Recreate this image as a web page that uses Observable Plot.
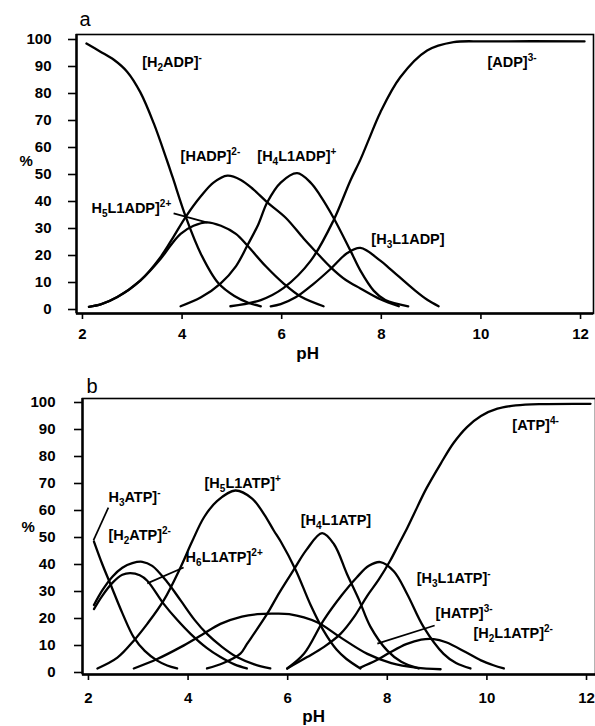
<!DOCTYPE html>
<html><head><meta charset="utf-8">
<script src="https://cdn.jsdelivr.net/npm/d3@7"></script>
<script src="https://cdn.jsdelivr.net/npm/@observablehq/plot@0.6"></script>
<style>
body{margin:0;background:#fff;}
#c{width:595px;}
#c svg{display:block;}
</style></head><body><div id="c"></div>
<script>
// ---------- Panel a : ADP system  [pH, %] ----------
const H2ADP   = [[2.0,98.5],[2.28,95.5],[2.55,92.5],[2.82,88],[3.08,80.5],[3.35,69],[3.62,55],[3.73,49],[4.0,34],[4.3,20.5],[4.65,9.7],[4.97,5],[5.25,2.5],[5.5,1.2]];
const HADP    = [[2.05,1],[2.3,2],[2.62,4.6],[3.08,10.7],[3.49,19.5],[3.75,27],[4.0,34.5],[4.3,42],[4.55,47],[4.83,49.6],[5.1,48],[5.35,44.5],[5.63,39.7],[6.0,34],[6.36,26.3],[6.6,21.5],[6.9,15.7],[7.2,11],[7.5,7.8],[7.9,3.8],[8.27,1.2]];
const H5L1ADP = [[2.05,1],[2.3,2],[2.62,4.6],[3.08,10.7],[3.49,18.8],[3.7,24],[3.89,28],[4.15,31],[4.42,32.3],[4.7,31],[5.0,28],[5.23,23.7],[5.6,16],[5.96,9.6],[6.3,4.8],[6.76,1.2]];
const H4L1ADP = [[3.89,1.2],[4.3,4.5],[4.69,9.6],[5.0,16],[5.23,23.7],[5.45,31.5],[5.63,39.7],[5.9,47],[6.23,50.5],[6.5,47],[6.7,42],[6.96,34],[7.3,21.8],[7.5,14.4],[7.77,6.9],[8.0,3.5],[8.46,1.2]];
const H3L1ADP = [[5.7,1.2],[5.9,2],[6.2,4.5],[6.56,9.5],[6.9,15],[7.23,20.8],[7.5,22.8],[7.9,18.1],[8.1,15],[8.6,7],[8.85,3.5],[9.07,1.2]];
const ADP     = [[4.89,1.2],[5.5,3.5],[5.96,8],[6.5,18],[6.96,33],[7.3,47.8],[7.5,55.5],[7.67,63],[7.9,73],[8.3,86],[8.84,95.9],[9.37,99],[10,99.3],[12,99.3]];

// ---------- Panel b : ATP system  [pH, %] ----------
const H3ATP   = [[2.03,48.5],[2.2,40],[2.36,32.8],[2.6,22],[2.83,13],[3.05,8],[3.3,4.4],[3.5,2.6],[3.7,1.5]];
const H2ATP   = [[2.03,25],[2.2,30.5],[2.4,35.5],[2.6,38.8],[2.8,40.5],[3.0,41],[3.2,39.5],[3.5,33.5],[3.77,26.7],[4.05,19.5],[4.3,14.3],[4.6,9.5],[4.9,5.7],[5.25,3],[5.57,1.5]];
const H6L1ATP = [[2.03,23.5],[2.2,28.5],[2.4,33.2],[2.6,36.2],[2.76,36.8],[2.95,36],[3.1,34],[3.43,25.4],[3.7,19.5],[3.97,14.3],[4.3,9],[4.57,5.7],[4.85,3],[5.1,1.5]];
const H5L1ATP = [[2.1,1.5],[2.5,5.5],[2.83,11.8],[3.1,18],[3.43,26.7],[3.77,39],[4.0,48.5],[4.24,57.5],[4.5,63.5],[4.87,67.4],[5.2,64.5],[5.45,58.5],[5.64,52.6],[5.78,48.5],[6.08,38],[6.38,25],[6.64,15.5],[6.9,8.5],[7.1,5],[7.38,1.5]];
const HATP    = [[2.83,1.5],[3.3,5],[3.77,9.4],[4.2,14],[4.57,18],[5.0,20.7],[5.31,21.6],[5.6,21.8],[5.95,21.6],[6.51,18.6],[6.98,13],[7.52,6.9],[8.0,3.5],[8.5,1.8],[8.99,1.2]];
const H4L1ATP = [[4.3,1.5],[4.63,3.5],[4.97,7],[5.1,10.5],[5.5,21.5],[5.75,29.5],[6.04,38],[6.3,45.5],[6.61,51.6],[6.85,47.5],[7.11,36.5],[7.35,27],[7.58,17],[7.92,8.1],[8.2,4],[8.55,1.5]];
const H3L1ATP = [[5.91,1.5],[6.25,7],[6.64,19.3],[7.0,28.5],[7.31,35.3],[7.55,39.5],[7.78,40.9],[8.05,37.5],[8.32,29],[8.65,16.8],[9.05,6.9],[9.3,3.5],[9.59,1.5]];
const H2L1ATP = [[7.38,1.8],[7.7,4.5],[7.98,7.5],[8.3,10.5],[8.6,12.2],[8.85,12.4],[9.1,11.2],[9.5,7.5],[9.8,4.5],[10.05,2.7],[10.26,1.5]];
const ATP     = [[5.91,1.5],[6.31,5.7],[6.65,9.5],[6.98,14.3],[7.25,20.5],[7.52,28.5],[7.75,34.5],[7.98,41.5],[8.15,47.5],[8.32,53.5],[8.45,58.5],[8.7,68],[8.99,77.3],[9.25,85],[9.52,90.9],[9.8,95],[10.13,97.7],[10.5,98.9],[11,99.4],[12,99.5]];

// ---------- labels & pointers ----------
const labelsA = [
  {text:"[H_2ADP]^-",      x:3.12, y:91.5},
  {text:"[ADP]^{3-}",      x:10.05, y:91.5},
  {text:"[HADP]^{2-}",     x:3.89, y:56.7},
  {text:"[H_4L1ADP]^+",    x:5.43, y:56.7},
  {text:"H_5L1ADP]^{2+}",  x:2.10, y:37.4},
  {text:"[H_3L1ADP]",      x:7.72, y:25.9}
];
const pointersA = [{x1:3.75, y1:35.6, x2:4.43, y2:32.2}];
const labelsB = [
  {text:"H_3ATP]^-",        x:2.32, y:64.8},
  {text:"[H_2ATP]^{2-}",    x:2.32, y:50.7},
  {text:"[H_5L1ATP]^+",     x:4.25, y:70},
  {text:"H_6L1ATP]^{2+}",   x:3.87, y:42.6},
  {text:"[H_4L1ATP]",       x:6.18, y:56.3},
  {text:"[ATP]^{4-}",       x:10.43, y:91.5},
  {text:"[H_3L1ATP]^-",     x:8.51, y:34.8},
  {text:"[HATP]^{3-}",      x:8.89, y:21.9},
  {text:"[H_2L1ATP]^{2-}",  x:9.65, y:14.4}
];
const pointersB = [
  {x1:2.32, y1:61.1, x2:2.02, y2:48.9},
  {x1:3.83, y1:38.9, x2:3.10, y2:33.0},
  {x1:8.87, y1:17.4, x2:7.72, y2:10.7}
];
const xTicks = [2,4,6,8,10,12];
const yTicks = [0,10,20,30,40,50,60,70,80,90,100];

const rows = (name, arr) => arr.map(([ph, p]) => ({species:name, ph, p}));
const dataA = [
  ...rows("H2ADP",H2ADP), ...rows("HADP",HADP), ...rows("H5L1ADP",H5L1ADP),
  ...rows("H4L1ADP",H4L1ADP), ...rows("H3L1ADP",H3L1ADP), ...rows("ADP",ADP)
];
const dataB = [
  ...rows("H3ATP",H3ATP), ...rows("H2ATP",H2ATP), ...rows("H6L1ATP",H6L1ATP),
  ...rows("H5L1ATP",H5L1ATP), ...rows("HATP",HATP), ...rows("H4L1ATP",H4L1ATP),
  ...rows("H3L1ATP",H3L1ATP), ...rows("H2L1ATP",H2L1ATP), ...rows("ATP",ATP)
];

const FONT = "'Liberation Sans', Arial, Helvetica, sans-serif";

function panel(o) {
  return Plot.plot({
    width: 595, height: o.height,
    marginTop: o.mt, marginBottom: o.mb, marginLeft: o.ml, marginRight: o.mr,
    style: {fontFamily: FONT, fontSize: "15px", fontWeight: "bold", color: "#000", background: "#fff", overflow: "visible"},
    x: {domain: o.xd, label: null},
    y: {domain: o.yd, label: null},
    marks: [
      Plot.axisX({ticks: xTicks, tickSize: 6, tickPadding: o.xpad, dx: -4, fontSize: 15, fontWeight: "bold", strokeWidth: 1.6, label: null}),
      Plot.axisY({ticks: yTicks, tickSize: 8, tickPadding: o.ypad, fontSize: 15, fontWeight: "bold", strokeWidth: 1.6, label: null}),
      Plot.frame({stroke: "#000", strokeWidth: 1.6}),
      Plot.ruleX([o.xd[0]], {stroke: "#000", strokeWidth: 2.4}),
      Plot.ruleY([o.yd[0]], {stroke: "#000", strokeWidth: 2.4}),
      Plot.line(o.data, {x: "ph", y: "p", z: "species", curve: "catmull-rom", stroke: "#000", strokeWidth: 2.3}),
      Plot.link(o.pointers, {x1: "x1", y1: "y1", x2: "x2", y2: "y2", stroke: "#000", strokeWidth: 1.7}),
      Plot.text(o.labels, {x: "x", y: "y", text: "text", textAnchor: "start", fontSize: 14.5, fontWeight: "bold", fill: "#000"}),
      Plot.text([o.letter], {frameAnchor: "top-left", textAnchor: "start", lineAnchor: "bottom", dx: o.ldx, dy: o.ldy, fontSize: 20, fontWeight: "normal", fill: "#000"}),
      Plot.text(["%"], {y: () => o.pctY, frameAnchor: "left", dx: o.pctDx, fontSize: 15, fontWeight: "bold", fill: "#000"}),
      Plot.text(["pH"], {x: () => 6.44, frameAnchor: "bottom", lineAnchor: "top", dy: o.phDy, fontSize: 17, fontWeight: "bold", fill: "#000"})
    ]
  });
}

function richText(svg) {
  const ns = "http://www.w3.org/2000/svg";
  svg.querySelectorAll("text").forEach(node => {
    const s = node.textContent;
    if (!/[_^]/.test(s)) return;
    const parts = [];
    let i = 0;
    while (i < s.length) {
      const c = s[i];
      if (c === "_" || c === "^") {
        const mode = c === "_" ? "sub" : "sup";
        i++;
        let t;
        if (s[i] === "{") { const j = s.indexOf("}", i); t = s.slice(i + 1, j); i = j + 1; }
        else { t = s[i]; i++; }
        parts.push({t, mode});
      } else {
        let j = i;
        while (j < s.length && s[j] !== "_" && s[j] !== "^") j++;
        parts.push({t: s.slice(i, j), mode: "n"});
        i = j;
      }
    }
    node.textContent = "";
    let cur = 0;
    for (const p of parts) {
      const ts = document.createElementNS(ns, "tspan");
      const target = p.mode === "sub" ? 4 : p.mode === "sup" ? -6 : 0;
      if (target !== cur) ts.setAttribute("dy", target - cur);
      cur = target;
      if (p.mode !== "n") ts.setAttribute("font-size", 10);
      ts.textContent = p.t;
      node.appendChild(ts);
    }
  });
}

const a = panel({height: 362, mt: 34, mb: 49, ml: 76, mr: 2, xd: [1.8, 12.18], yd: [-1.48, 101.85],
  data: dataA, labels: labelsA, pointers: pointersA, letter: "a", ldx: 3, ldy: -9,
  pctY: 55, pctDx: -57, phDy: 33.7, xpad: 9, ypad: 17});
const b = panel({height: 364, mt: 36, mb: 52, ml: 82, mr: 0, xd: [1.8, 12.1], yd: [-0.74, 101.48],
  data: dataB, labels: labelsB, pointers: pointersB, letter: "b", ldx: 4, ldy: -6,
  pctY: 53.7, pctDx: -61, phDy: 35.5, xpad: 12, ypad: 19});
richText(a); richText(b);
document.getElementById("c").append(a, b);
</script></body></html>
